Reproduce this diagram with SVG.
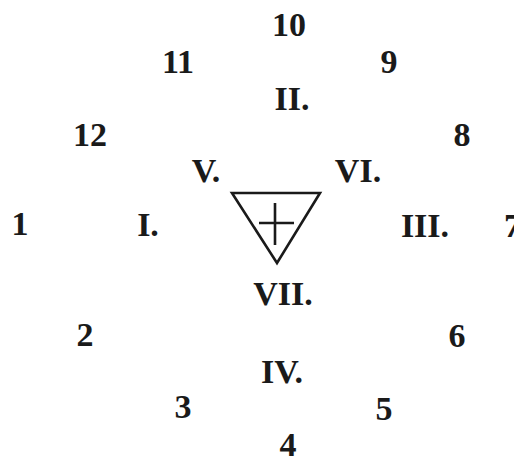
<svg xmlns="http://www.w3.org/2000/svg" width="514" height="460" viewBox="0 0 514 460">
<style>
text{font-family:"Liberation Serif","DejaVu Serif",serif;font-weight:bold;font-size:34px;fill:#1a1a1a;text-anchor:middle}
.sym{fill:none;stroke:#1a1a1a;stroke-width:2.6;stroke-linejoin:miter}
</style>
<rect width="514" height="460" fill="#fff"/>
<g id="connectors"/>
<g id="center">
<path class="sym" d="M232,193 L320,193 L277,263 Z"/>
<path class="sym" d="M275,203 V245 M259,223 H294"/>
</g>
<g id="n10"><text x="289" y="36">10</text></g>
<g id="n11"><text x="178" y="73">11</text></g>
<g id="n9"><text x="389" y="73">9</text></g>
<g id="nII"><text x="292" y="110">II.</text></g>
<g id="n12"><text x="90" y="146">12</text></g>
<g id="n8"><text x="462" y="146">8</text></g>
<g id="nV"><text x="206" y="182">V.</text></g>
<g id="nVI"><text x="358" y="182">VI.</text></g>
<g id="n1"><text x="20" y="235">1</text></g>
<g id="nI"><text x="148" y="236">I.</text></g>
<g id="nIII"><text x="425" y="237">III.</text></g>
<g id="n7"><text x="504" y="237" style="text-anchor:start">7</text></g>
<g id="nVII"><text x="283" y="305">VII.</text></g>
<g id="n2"><text x="85" y="346">2</text></g>
<g id="n6"><text x="457" y="347">6</text></g>
<g id="nIV"><text x="282" y="383">IV.</text></g>
<g id="n3"><text x="183" y="418">3</text></g>
<g id="n5"><text x="384" y="420">5</text></g>
<g id="n4"><text x="288" y="456">4</text></g>
</svg>
